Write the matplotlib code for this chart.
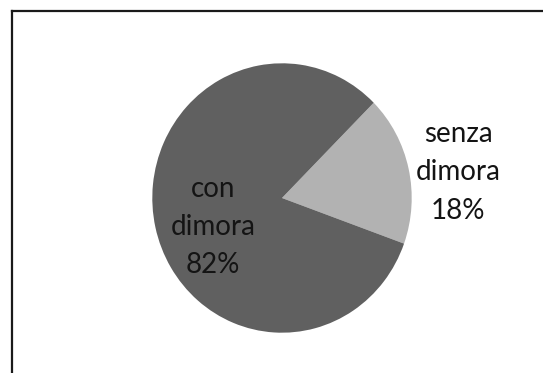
import matplotlib
matplotlib.use("Agg")
import matplotlib.pyplot as plt
from matplotlib.lines import Line2D

# Share of people with and without a home
labels = ["senza\ndimora", "con\ndimora"]
shares = [18, 82]
colors = ["#b2b2b2", "#606060"]

W, H = 543, 373
fig = plt.figure(figsize=(W / 100, H / 100), dpi=100)
fig.patch.set_facecolor("white")

# pie placed by pixel geometry (centre and radii)
cx, cy, rx, ry = 282.0, 198.0, 129.7, 134.7
ax = fig.add_axes([(cx - rx) / W, (H - cy - ry) / H, 2 * rx / W, 2 * ry / H])
ax.pie(shares, colors=colors, startangle=-19.8, counterclock=True,
       wedgeprops=dict(linewidth=0))
ax.set_aspect("auto")
ax.set_xlim(-1, 1)
ax.set_ylim(-1, 1)
ax.axis("off")

font = dict(family=["Lato", "DejaVu Sans"], fontsize=20, color="#141414",
            ha="center", va="center", linespacing=1.58)
ax.text(1.357, 0.19, f"{labels[0]}\n{shares[0]}%", clip_on=False, **font)
ax.text(-0.532, -0.215, f"{labels[1]}\n{shares[1]}%", clip_on=False, **font)

# chart frame (left and top edges visible)
x0 = 11.5 / W
y0 = 1 - 11 / H
fig.add_artist(Line2D([x0, x0], [0, y0], transform=fig.transFigure,
                      color="#1a1a1a", linewidth=1.6))
fig.add_artist(Line2D([x0, 1], [y0, y0], transform=fig.transFigure,
                      color="#1a1a1a", linewidth=1.6))

fig.savefig("out.png", dpi=100)
